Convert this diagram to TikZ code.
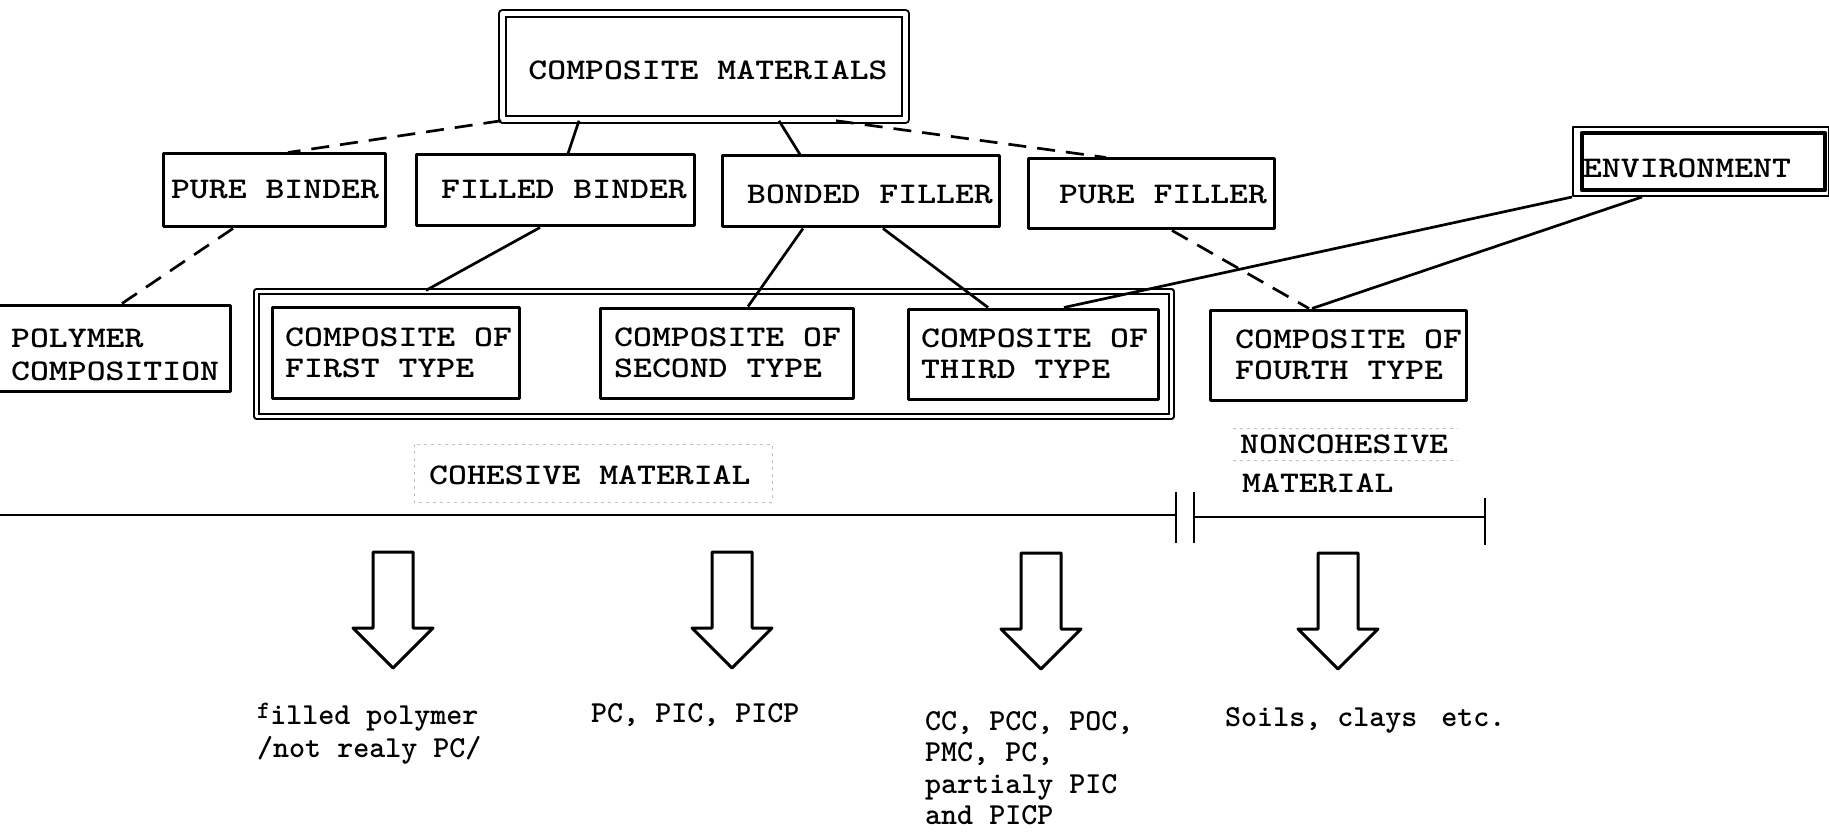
\documentclass[tikz,border=0pt]{standalone}
\usepackage{fontspec}
\usepackage{graphicx}
\usetikzlibrary{calc}
\newcommand\bxf{\ttfamily\bfseries\fontsize{30}{31}\selectfont}
\newcommand\bx[1]{\scalebox{1.2}[1]{#1}}
\newcommand\lowf{\ttfamily\bfseries\fontsize{30.5}{31.5}\selectfont}
\newcommand\barrow[2]{\draw[blockarrow] (#1-20,#2) -- (#1+20,#2) -- (#1+20,#2+76) -- (#1+40,#2+76) -- (#1,#2+116) -- (#1-40,#2+76) -- (#1-20,#2+76) -- cycle;}
\begin{document}
\begin{tikzpicture}[x=1pt,y=-1pt,line join=round,
  box/.style={draw, line width=3pt, inner sep=0pt, rectangle},
  conn/.style={line width=2.7pt},
  dashconn/.style={line width=2.7pt, dash pattern=on 18pt off 11pt},
  lab/.style={inner sep=0pt, font=\bxf},
  low/.style={inner sep=0pt, font=\lowf, anchor=base west},
  blockarrow/.style={draw, line width=3pt, fill=white},
  faint/.style={gray!50, line width=0.9pt, dash pattern=on 3pt off 4pt},
  rule/.style={line width=2.8pt}]
\useasboundingbox[fill=white] (0,0) rectangle (1829,837);

% boxes
\node[box, double, double distance=4.5pt, line width=2.5pt, minimum width=403, minimum height=106] (top) at (704,66.5) {};
\node[box, minimum width=222, minimum height=73] (pb) at (274,190.5) {};
\node[box, minimum width=278, minimum height=71] (fb) at (555,190.5) {};
\node[box, minimum width=277, minimum height=71] (bf) at (860.5,191.5) {};
\node[box, minimum width=246, minimum height=70] (pf) at (1151,194) {};
\node[box, line width=2pt, minimum width=256, minimum height=69] (envo) at (1701,161.5) {};
\node[box, line width=4.5pt, minimum width=243, minimum height=57] (env) at (1703.5,161.5) {};
\node[box, minimum width=235, minimum height=86] (poly) at (112.5,348) {};
\node[box, double, double distance=2.5pt, line width=2.3pt, minimum width=915, minimum height=125] (grp) at (714,354) {};
\node[box, minimum width=247, minimum height=91] (c1) at (395.5,352.5) {};
\node[box, minimum width=253, minimum height=90] (c2) at (726.5,353) {};
\node[box, minimum width=250, minimum height=90] (c3) at (1033,354) {};
\node[box, minimum width=256, minimum height=90] (c4) at (1338,355) {};

% box texts
\node[lab] (topt) at (708,70) {\bx{COMPOSITE MATERIALS}};
\node[lab] (pbt) at (275,190) {\bx{PURE BINDER}};
\node[lab] (fbt) at (564,190) {\bx{FILLED BINDER}};
\node[lab] (bft) at (870,194) {\bx{BONDED FILLER}};
\node[lab] (pft) at (1163,195) {\bx{PURE FILLER}};
\node[lab] (envt) at (1687,168) {\bx{ENVIRONMENT}};
\node[lab, align=left, anchor=west] (polyt) at (11,355) {\bx{POLYMER}\\[2pt]\bx{COMPOSITION}};
\node[lab, align=left, anchor=west] (c1t) at (285,352.5) {\bx{COMPOSITE OF}\\\bx{FIRST TYPE}};
\node[lab, align=left, anchor=west] (c2t) at (614,353) {\bx{COMPOSITE OF}\\\bx{SECOND TYPE}};
\node[lab, align=left, anchor=west] (c3t) at (921,354) {\bx{COMPOSITE OF}\\\bx{THIRD TYPE}};
\node[lab, align=left, anchor=west] (c4t) at (1235,355) {\bx{COMPOSITE OF}\\\bx{FOURTH TYPE}};

% connectors
\draw[dashconn] (top.south west) -- (288,0 |- pb.north);
\draw[conn] (579,0 |- top.south) -- (568,0 |- fb.north);
\draw[conn] (779,0 |- top.south) -- (800,0 |- bf.north);
\draw[dashconn] (836,0 |- top.south) -- (1106,0 |- pf.north);
\draw[dashconn] (233,0 |- pb.south) -- (122,0 |- poly.north);
\draw[conn] (540,0 |- fb.south) -- (426,0 |- grp.north);
\draw[conn] (803,0 |- bf.south) -- (748,0 |- c2.north);
\draw[conn] (883,0 |- bf.south) -- (988,0 |- c3.north);
\draw[dashconn] (1172,0 |- pf.south) -- (1309,0 |- c4.north);
\draw[conn] (envo.south west) -- (1064,0 |- c3.north);
\draw[conn] (1642,0 |- envo.south) -- (1312,0 |- c4.north);

% category labels
\draw[faint] (414,444) rectangle (772,502);
\draw[faint] (1233,428) -- (1458,428);
\draw[faint] (1233,460) -- (1458,460);
\node[lab, anchor=west] (coh) at (429,475) {\bx{COHESIVE MATERIAL}};
\node[lab, anchor=west] (nonc) at (1240,444) {\bx{NONCOHESIVE}};
\node[lab, anchor=west] (mat) at (1242,483) {\bx{MATERIAL}};

% scale line
\draw[rule] (-5,515) -- (1176,515);
\draw[rule] (1176,492) -- (1176,543);
\draw[rule] (1194,492) -- (1194,543);
\draw[rule] (1194,517) -- (1485,517);
\draw[rule] (1485,498) -- (1485,545);

% block arrows
\barrow{393}{552}
\barrow{732}{552}
\barrow{1041}{553}
\barrow{1338}{553}

% results
\node[low] (r1) at (257,724) {\begin{tabular}[t]{@{}l@{}}\raisebox{6pt}{\fontsize{25}{25}\selectfont f}illed polymer\\[2pt]/not realy PC/\end{tabular}};
\node[low] (r2) at (591,722) {PC, PIC, PICP};
\node[low] (r3) at (925,730) {\begin{tabular}[t]{@{}l@{}}CC, PCC, POC,\\PMC, PC,\\partialy PIC\\and PICP\end{tabular}};
\node[low] (r4) at (1225,726) {Soils, clays\hspace{8pt} etc.};
\end{tikzpicture}
\end{document}
